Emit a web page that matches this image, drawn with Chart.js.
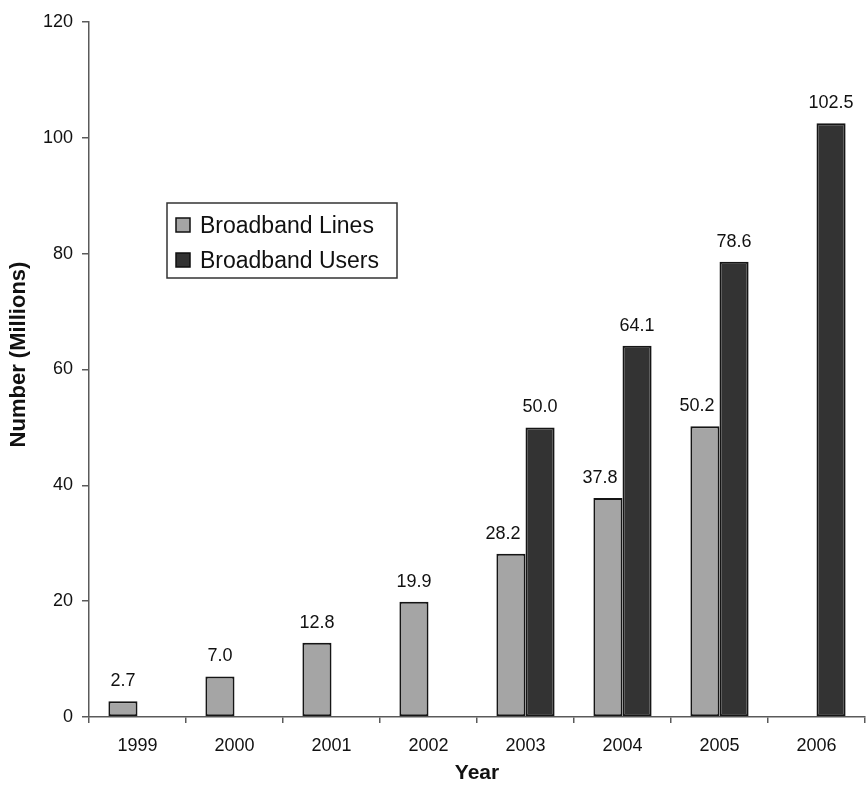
<!DOCTYPE html>
<html>
<head>
<meta charset="utf-8">
<script src="https://cdn.jsdelivr.net/npm/chart.js@4"></script>
<style>
  html, body { margin: 0; padding: 0; background: #fff; }
  #wrap { width: 866px; height: 786px; position: relative; }
</style>
</head>
<body>
<div id="wrap"><canvas id="chart"></canvas></div>
<script>
// Broadband growth, in millions
const years = ['1999', '2000', '2001', '2002', '2003', '2004', '2005', '2006'];
const broadbandLines = [2.7, 7.0, 12.8, 19.9, 28.2, 37.8, 50.2, null];
const broadbandUsers = [null, null, null, null, 50.0, 64.1, 78.6, 102.5];
const yTicks = [0, 20, 40, 60, 80, 100, 120];

const FONT = '"Liberation Sans", Arial, Helvetica, sans-serif';
const AXIS_GREY = '#5a5a5a';

// Value labels above each bar; a label on the left bar of a pair is nudged
// left so it stays clear of the taller neighbour.
const valueLabels = {
  id: 'valueLabels',
  afterDatasetsDraw(chart) {
    const ctx = chart.ctx;
    ctx.save();
    ctx.font = '18px ' + FONT;
    ctx.fillStyle = '#111';
    ctx.textAlign = 'center';
    ctx.textBaseline = 'alphabetic';
    const datasets = chart.data.datasets;
    datasets.forEach((ds, i) => {
      const meta = chart.getDatasetMeta(i);
      meta.data.forEach((bar, j) => {
        const v = ds.data[j];
        if (v === null || v === undefined) return;
        const next = datasets[i + 1];
        const paired = next && next.data[j] !== null && next.data[j] !== undefined;
        const dx = paired ? -8 : 0;
        ctx.fillText(v.toFixed(1), bar.x + dx, bar.y - 15);
      });
    });
    ctx.restore();
  }
};

// Boxed legend sitting inside the plot area
const boxedLegend = {
  id: 'boxedLegend',
  afterDraw(chart) {
    const ctx = chart.ctx;
    const area = chart.chartArea;
    const left = area.left + 78, top = area.top + 181, w = 230, h = 75;
    ctx.save();
    ctx.fillStyle = '#fff';
    ctx.fillRect(left, top, w, h);
    ctx.strokeStyle = '#333';
    ctx.lineWidth = 1.5;
    ctx.strokeRect(left, top, w, h);
    ctx.font = '23px ' + FONT;
    ctx.textBaseline = 'alphabetic';
    chart.data.datasets.forEach((ds, i) => {
      const baseY = top + 30 + i * 35;
      ctx.fillStyle = ds.backgroundColor;
      ctx.fillRect(left + 9, baseY - 15, 14, 14);
      ctx.strokeStyle = '#111';
      ctx.lineWidth = 1.5;
      ctx.strokeRect(left + 9, baseY - 15, 14, 14);
      ctx.fillStyle = '#111';
      ctx.fillText(ds.label, left + 33, baseY);
    });
    ctx.restore();
  }
};

// Vertical axis caption, drawn beside the tick labels
const yCaption = {
  id: 'yCaption',
  afterDraw(chart) {
    const ctx = chart.ctx;
    const area = chart.chartArea;
    ctx.save();
    ctx.translate(19, (area.top + area.bottom) / 2 - 15);
    ctx.rotate(-Math.PI / 2);
    ctx.font = 'bold 22px ' + FONT;
    ctx.fillStyle = '#111';
    ctx.textAlign = 'center';
    ctx.textBaseline = 'middle';
    ctx.fillText('Number (Millions)', 0, 0);
    ctx.restore();
  }
};

new Chart(document.getElementById('chart'), {
  type: 'bar',
  data: {
    labels: years,
    datasets: [
      {
        label: 'Broadband Lines',
        data: broadbandLines,
        backgroundColor: '#a5a5a5',
        borderColor: '#151515',
        borderWidth: 2,
        borderSkipped: false
      },
      {
        label: 'Broadband Users',
        data: broadbandUsers,
        backgroundColor: '#333333',
        borderColor: '#151515',
        borderWidth: 2,
        borderSkipped: false
      }
    ]
  },
  options: {
    responsive: true,
    maintainAspectRatio: false,
    animation: false,
    layout: { padding: { top: 22, right: 1, left: 0, bottom: 0 } },
    datasets: { bar: { categoryPercentage: 0.6, barPercentage: 1.0 } },
    plugins: {
      legend: { display: false },
      tooltip: { enabled: false }
    },
    scales: {
      x: {
        grid: {
          offset: true,
          drawOnChartArea: false,
          drawTicks: true,
          tickLength: 6,
          color: AXIS_GREY,
          lineWidth: 1.5
        },
        border: { display: true, color: AXIS_GREY, width: 1.5 },
        ticks: { color: '#111', font: { family: FONT, size: 18 }, padding: 12, maxRotation: 0 },
        title: {
          display: true,
          text: 'Year',
          color: '#111',
          font: { family: FONT, size: 21, weight: 'bold' },
          padding: { top: 0, bottom: 0 }
        },
        afterFit(scale) { scale.height = 69; }
      },
      y: {
        min: 0,
        max: 120,
        afterBuildTicks(scale) { scale.ticks = yTicks.map(v => ({ value: v })); },
        grid: {
          drawOnChartArea: false,
          drawTicks: true,
          tickLength: 7,
          color: AXIS_GREY,
          lineWidth: 1.5
        },
        border: { display: true, color: AXIS_GREY, width: 1.5 },
        ticks: { color: '#111', font: { family: FONT, size: 18 }, padding: 9 },
        afterFit(scale) { scale.width = 89; }
      }
    }
  },
  plugins: [valueLabels, boxedLegend, yCaption]
});
</script>
</body>
</html>
